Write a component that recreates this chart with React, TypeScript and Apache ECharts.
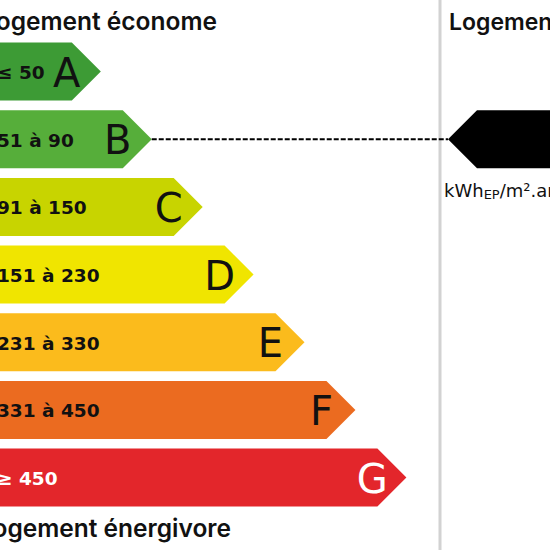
import React, { useEffect, useRef } from 'react';
import * as echarts from 'echarts';

// Energy classes (DPE) and their consumption ranges (kWhEP/m².an)
const classes = ['A', 'B', 'C', 'D', 'E', 'F', 'G'];
const ranges = ['≤ 50', '51 à 90', '91 à 150', '151 à 230', '231 à 330', '331 à 450', '≥ 450'];
// arrow length, in steps
const barSteps = [1, 2, 3, 4, 5, 6, 7];
const barColors = ['#3d9b35', '#56ae3a', '#c8d400', '#f0e500', '#fbbb1c', '#eb6b20', '#e3262b'];
const textColors = ['#111', '#111', '#111', '#111', '#111', '#111', '#ffffff'];
const currentClass = 'B';
const topTitle = 'Logement économe';
const bottomTitle = 'Logement énergivore';
const rightTitle = 'Logement';

const TIP = 29;
const PANEL_X = 440;
const INDICATOR_TIP = 448;

export default function App() {
  const ref = useRef<HTMLDivElement>(null);
  useEffect(() => {
    const chart = echarts.init(ref.current!, null, { renderer: 'svg' });
    const data = classes.map((c, i) => [i, barSteps[i]]);
    const curIdx = classes.indexOf(currentClass);
    chart.setOption({
      animation: false,
      backgroundColor: '#ffffff',
      grid: { left: 0, right: 0, top: 37.7, bottom: 38.6 },
      xAxis: { type: 'value', min: -0.41, max: 10.39, show: false },
      yAxis: { type: 'category', data: classes, inverse: true, show: false },
      series: [
        {
          type: 'custom',
          name: 'classes',
          data,
          encode: { x: 1, y: 0 },
          renderItem: (params: any, api: any) => {
            const i = api.value(0);
            const len = api.value(1);
            const [xe, yc] = api.coord([len, i]);
            const band = api.size([0, 1])[1];
            const h = band * 0.857;
            const x0 = -20;
            return {
              type: 'group',
              children: [
                {
                  type: 'polygon',
                  shape: {
                    points: [
                      [x0, yc - h / 2],
                      [xe, yc - h / 2],
                      [xe + TIP, yc],
                      [xe, yc + h / 2],
                      [x0, yc + h / 2],
                    ],
                  },
                  style: { fill: barColors[i] },
                },
                {
                  type: 'text',
                  style: {
                    text: ranges[i],
                    x: -3,
                    y: yc + 1,
                    fill: textColors[i],
                    font: 'bold 18.5px "DejaVu Sans"',
                    align: 'left',
                    verticalAlign: 'middle',
                    textAlign: 'left',
                    textVerticalAlign: 'middle',
                  },
                },
                {
                  type: 'text',
                  style: {
                    text: classes[i],
                    x: xe - 5,
                    y: yc + 1,
                    fill: textColors[i],
                    font: '40px "DejaVu Sans"',
                    align: 'center',
                    verticalAlign: 'middle',
                    textAlign: 'center',
                    textVerticalAlign: 'middle',
                  },
                },
              ],
            };
          },
        },
        {
          type: 'custom',
          name: 'indicator',
          data: [[curIdx, barSteps[curIdx]]],
          encode: { x: 1, y: 0 },
          renderItem: (params: any, api: any) => {
            const i = api.value(0);
            const len = api.value(1);
            const [xe, yc] = api.coord([len, i]);
            const band = api.size([0, 1])[1];
            const h = band * 0.857;
            const t = INDICATOR_TIP;
            return {
              type: 'group',
              children: [
                {
                  type: 'line',
                  shape: { x1: xe + TIP, y1: yc, x2: t, y2: yc },
                  style: { stroke: '#000', lineWidth: 2, lineDash: [5, 2] },
                },
                {
                  type: 'polygon',
                  shape: {
                    points: [
                      [t, yc],
                      [t + TIP, yc - h / 2],
                      [600, yc - h / 2],
                      [600, yc + h / 2],
                      [t + TIP, yc + h / 2],
                    ],
                  },
                  style: { fill: '#000000' },
                },
              ],
            };
          },
        },
      ],
      graphic: [
        {
          type: 'rect',
          shape: { x: PANEL_X - 1.5, y: 0, width: 3, height: 550 },
          style: { fill: '#d2d2d2' },
        },
        {
          type: 'text',
          style: {
            text: topTitle,
            x: 217,
            y: 21,
            fill: '#111',
            font: '600 24.5px Inter',
            align: 'right',
            verticalAlign: 'middle',
            textAlign: 'right',
            textVerticalAlign: 'middle',
          },
        },
        {
          type: 'text',
          style: {
            text: bottomTitle,
            x: 231,
            y: 528,
            fill: '#111',
            font: '600 24.5px Inter',
            align: 'right',
            verticalAlign: 'middle',
            textAlign: 'right',
            textVerticalAlign: 'middle',
          },
        },
        {
          type: 'text',
          style: {
            text: rightTitle,
            x: 449,
            y: 22,
            fill: '#111',
            font: '600 23px Inter',
            align: 'left',
            verticalAlign: 'middle',
            textAlign: 'left',
            textVerticalAlign: 'middle',
          },
        },
        {
          type: 'text',
          style: {
            text: 'kWh{sub|EP}/m².an',
            x: 444,
            y: 190,
            fill: '#111',
            font: '18px "DejaVu Sans"',
            align: 'left',
            verticalAlign: 'middle',
            textAlign: 'left',
            textVerticalAlign: 'middle',
            rich: {
              sub: { fontSize: 13, fontFamily: 'DejaVu Sans', fill: '#111', padding: [8, 0, 0, 0] },
            },
          },
        },
      ],
    });
    return () => chart.dispose();
  }, []);
  return <div ref={ref} style={{ width: 550, height: 550, position: 'fixed', left: 0, top: 0 }} />;
}
